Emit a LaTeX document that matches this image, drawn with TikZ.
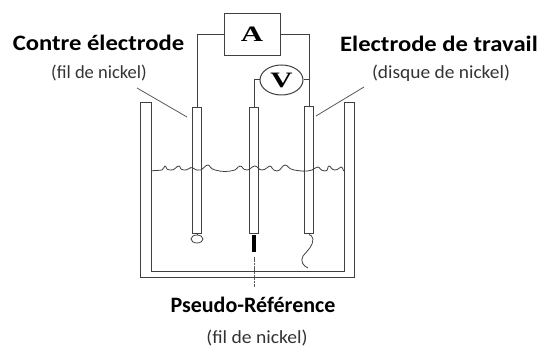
\documentclass[tikz,border=0pt]{standalone}
\usepackage{fontspec}
\usepackage{graphicx}
\usetikzlibrary{shapes.geometric}
\setmainfont{Carlito}
\newfontfamily\serifb{Liberation Serif}
\tikzset{x=1pt,y=-1pt,
 wire/.style={draw=black!75,line width=1pt},
 lead/.style={draw=black!65,line width=0.8pt},
 tube/.style={draw=black!75,fill=white,line width=1pt,minimum width=8.5pt,inner sep=0pt},
 title/.style={font=\bfseries\fontsize{22}{24}\selectfont,inner sep=0pt,text=black},
 sub/.style={font=\fontsize{18.5}{20}\selectfont,inner sep=0pt,text=black!80},
 meter/.style={draw=black!75,fill=white,line width=1pt,font=\serifb\bfseries\fontsize{22}{24}\selectfont,inner sep=0pt}}
\begin{document}
\begin{tikzpicture}
\useasboundingbox (0,0) rectangle (539,347);
% vessel
\draw[wire] (140,103) -- (140,278) -- (354,278) -- (354,103) -- (344,103) -- (344,271.5) -- (151,271.5) -- (151,103) -- cycle;
% electrodes
\node[tube,minimum height=126pt] (ce) at (197,171) {};
\node[tube,minimum height=126pt] (re) at (254,171) {};
\node[tube,minimum height=127pt] (we) at (309,170.5) {};
% liquid surface
\draw[wire,line width=0.8pt] (151,171) .. controls (156,170) and (159,171) .. (162,170) .. controls (165,169) and (163,166) .. (165,166) .. controls (167,166) and (165,170) .. (170,170) .. controls (175,171) and (176,166) .. (179,166) .. controls (181,166) and (179,170) .. (184,170) .. controls (188,171) and (190,166) .. (193,168) .. controls (196,170) and (198,171) .. (201,170) .. controls (204,169) and (205,165) .. (208,165) .. controls (210,165) and (210,169) .. (215,170) .. controls (222,172) and (228,172) .. (235,170) .. controls (238,168) and (238,166) .. (240,166) .. controls (243,166) and (242,170) .. (247,170) .. controls (250,170) and (252,166) .. (255,166) .. controls (258,166) and (258,170) .. (262,170) .. controls (266,170) and (268,166) .. (270,166) .. controls (272,166) and (272,171) .. (277,171) .. controls (281,171) and (282,165) .. (285,165) .. controls (288,165) and (288,169) .. (294,170) .. controls (301,171) and (306,172) .. (312,170) .. controls (315,169) and (315,167) .. (318,167) .. controls (320,167) and (320,171) .. (325,171) .. controls (329,171) and (327,166) .. (329,166) .. controls (331,166) and (331,170) .. (335,170) .. controls (339,170) and (339,167) .. (341,167) .. controls (343,167) and (343,171) .. (344,171);
% meters
\node[meter,minimum width=56pt,minimum height=42pt] (A) at (252,34.5) {\scalebox{1.4}[1]{A}};
\node[meter,ellipse,minimum width=43pt,minimum height=30pt] (V) at (281.5,80) {\scalebox{1.4}[1]{V}};
% wiring
\draw[wire] (A.west) -- (197,34.5) -- (ce.north);
\draw[wire] (A.east) -- (309,34.5) -- (we.north);
\draw[wire] (V.west) -- (254,80) -- (re.north);
\draw[wire] (V.east) -- (309,80);
% electrode tips
\node[draw=black!75,line width=0.8pt,ellipse,minimum width=12pt,minimum height=8pt,inner sep=0pt] (loop) at (197,239) {};
\draw[wire] (ce.south) -- (loop.north);
\fill[black] (251.8,235) rectangle (256.2,252);
\draw[lead,line width=1pt,dash pattern=on 5pt off 1pt on 2pt off 1pt] (254,257) -- (254,287);
\draw[wire,line width=0.8pt] (we.south) .. controls (310,235) and (313,236) .. (313,239) .. controls (313,246) and (308,250) .. (303,256) .. controls (300,261) and (303,266) .. (308,268);
% leaders
\coordinate (l1a) at (137,88);
\coordinate (l1b) at (187,117);
\coordinate (l2a) at (364,87);
\coordinate (l2b) at (316,116);
\draw[lead] (l1a) -- (l1b);
\draw[lead] (l2a) -- (l2b);
% labels
\node[title] (t1) at (98.5,43) {\scalebox{1.12}[1]{Contre électrode}};
\node[sub] (s1) at (99,73) {(fil de nickel)};
\node[title] (t2) at (439,43.5) {\scalebox{1.12}[1]{Electrode de travail}};
\node[sub] (s2) at (441,73) {\scalebox{1.05}[1]{(disque de nickel)}};
\node[title] (t3) at (253,305) {Pseudo-Référence};
\node[sub] (s3) at (257,338) {\scalebox{1.06}[1]{(fil de nickel)}};
\end{tikzpicture}
\end{document}
